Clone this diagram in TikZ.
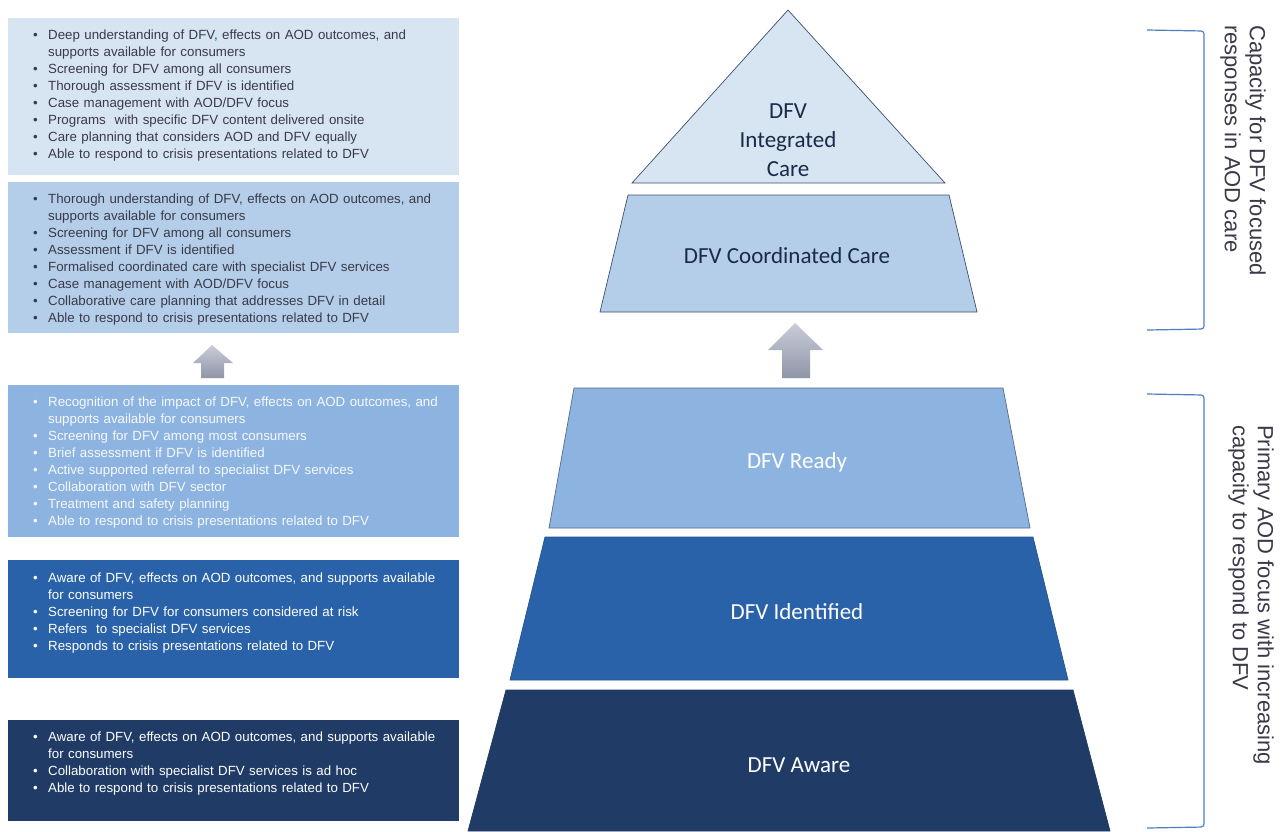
\documentclass[tikz,border=0pt]{standalone}
\usepackage{fontspec}
\setmainfont{Liberation Sans}
\newfontfamily\calib{Carlito}
\definecolor{lvA}{HTML}{D7E4F2}
\definecolor{lvB}{HTML}{B4CDE8}
\definecolor{lvC}{HTML}{8DB3E1}
\definecolor{lvD}{HTML}{2A62A9}
\definecolor{lvE}{HTML}{1F3B66}
\definecolor{txtdark}{HTML}{3A3A48}
\definecolor{navy}{HTML}{1C2A4A}
\definecolor{edgeblue}{HTML}{3D4E70}
\definecolor{brk}{HTML}{4F7FBD}
\definecolor{arrtop}{HTML}{CACDD8}
\definecolor{arrbot}{HTML}{8F95A8}
\newcommand\bl[1]{\par\noindent\hangindent=15pt\hangafter=1\makebox[15pt][l]{\textbullet}#1}
\tikzset{
  listtext/.style={anchor=north west, text width=425pt, align=left, inner sep=0pt,
    font=\fontsize{13.3}{17}\selectfont},
  lvl/.style={font=\calib\fontsize{23}{29}\selectfont, align=center, inner sep=0pt},
  sidetext/.style={rotate=-90, anchor=north west, align=left, inner sep=0pt,
    font=\fontsize{22}{25}\selectfont, text=txtdark},
  bracket/.style={draw=brk, line width=1.2pt, rounded corners=3pt},
  uparrow/.style={top color=arrtop, bottom color=arrbot, draw=none},
  tier/.style={line width=0.7pt}
}
\begin{document}
\begin{tikzpicture}[x=1pt,y=-1pt]
\useasboundingbox (0,0) rectangle (1281,831);
\fill[white] (0,0) rectangle (1281,831);
% left boxes
\fill[lvA] (8,18) rectangle (459,175);
\fill[lvB] (8,182) rectangle (459,333);
\fill[lvC] (8,385) rectangle (459,537);
\fill[lvD] (8,560) rectangle (459,678);
\fill[lvE] (8,720) rectangle (459,821);
\node[listtext, text=txtdark] (t1) at (33,22) {%
\bl{Deep understanding of DFV, effects on AOD outcomes, and\newline supports available for consumers}
\bl{Screening for DFV among all consumers}
\bl{Thorough assessment if DFV is identified}
\bl{Case management with AOD/DFV focus}
\bl{Programs\ \ with specific DFV content delivered onsite}
\bl{Care planning that considers AOD and DFV equally}
\bl{Able to respond to crisis presentations related to DFV}};
\node[listtext, text=txtdark] (t2) at (33,186) {%
\bl{Thorough understanding of DFV, effects on AOD outcomes, and\newline supports available for consumers}
\bl{Screening for DFV among all consumers}
\bl{Assessment if DFV is identified}
\bl{Formalised coordinated care with specialist DFV services}
\bl{Case management with AOD/DFV focus}
\bl{Collaborative care planning that addresses DFV in detail}
\bl{Able to respond to crisis presentations related to DFV}};
\node[listtext, text=white!92!lvC] (t3) at (33,389) {%
\bl{Recognition of the impact of DFV, effects on AOD outcomes, and\newline supports available for consumers}
\bl{Screening for DFV among most consumers}
\bl{Brief assessment if DFV is identified}
\bl{Active supported referral to specialist DFV services}
\bl{Collaboration with DFV sector}
\bl{Treatment and safety planning}
\bl{Able to respond to crisis presentations related to DFV}};
\node[listtext, text=white] (t4) at (33,565) {%
\bl{Aware of DFV, effects on AOD outcomes, and supports available\newline for consumers}
\bl{Screening for DFV for consumers considered at risk}
\bl{Refers\ \ to specialist DFV services}
\bl{Responds to crisis presentations related to DFV}};
\node[listtext, text=white] (t5) at (33,724) {%
\bl{Aware of DFV, effects on AOD outcomes, and supports available\newline for consumers}
\bl{Collaboration with specialist DFV services is ad hoc}
\bl{Able to respond to crisis presentations related to DFV}};
% left arrow
\path[uparrow] (212,345) -- (233,363) -- (224,363) -- (224,378) -- (201,378) -- (201,363) -- (193,363) -- cycle;
% pyramid
\filldraw[tier, fill=lvA, draw=edgeblue] (788,10) -- (945,183) -- (632,183) -- cycle;
\filldraw[tier, fill=lvB, draw=edgeblue] (628,195) -- (949,195) -- (977,312) -- (600,312) -- cycle;
\filldraw[tier, fill=lvC, draw=lvC!60!black] (574,388) -- (1003,388) -- (1030,528) -- (549,528) -- cycle;
\filldraw[tier, fill=lvD, draw=lvD!85!black] (545,537) -- (1033,537) -- (1068,680) -- (510,680) -- cycle;
\filldraw[tier, fill=lvE, draw=lvE] (506,690) -- (1073,690) -- (1110,831) -- (468,831) -- cycle;
\node[lvl, text=navy] (p1) at (788,140) {DFV\\Integrated\\Care};
\node[lvl, text=navy] (p2) at (787,256) {DFV Coordinated Care};
\node[lvl, text=white] (p3) at (797,462) {DFV Ready};
\node[lvl, text=white] (p4) at (797,612) {DFV Identified};
\node[lvl, text=white] (p5) at (799,765) {DFV Aware};
% right arrow
\path[uparrow] (795,323) -- (823,350) -- (810,350) -- (810,378) -- (782,378) -- (782,350) -- (768,350) -- cycle;
% brackets
\draw[bracket] (1147,30) -- (1204,31) -- (1204,329) -- (1147,330);
\draw[bracket] (1147,394) -- (1204,395) -- (1204,827) -- (1147,828);
\node[sidetext] (s1) at (1266,25) {Capacity for DFV focused\\responses in AOD care};
\node[sidetext] (s2) at (1274,425) {Primary AOD focus with increasing\\capacity to respond to DFV};
\end{tikzpicture}
\end{document}
